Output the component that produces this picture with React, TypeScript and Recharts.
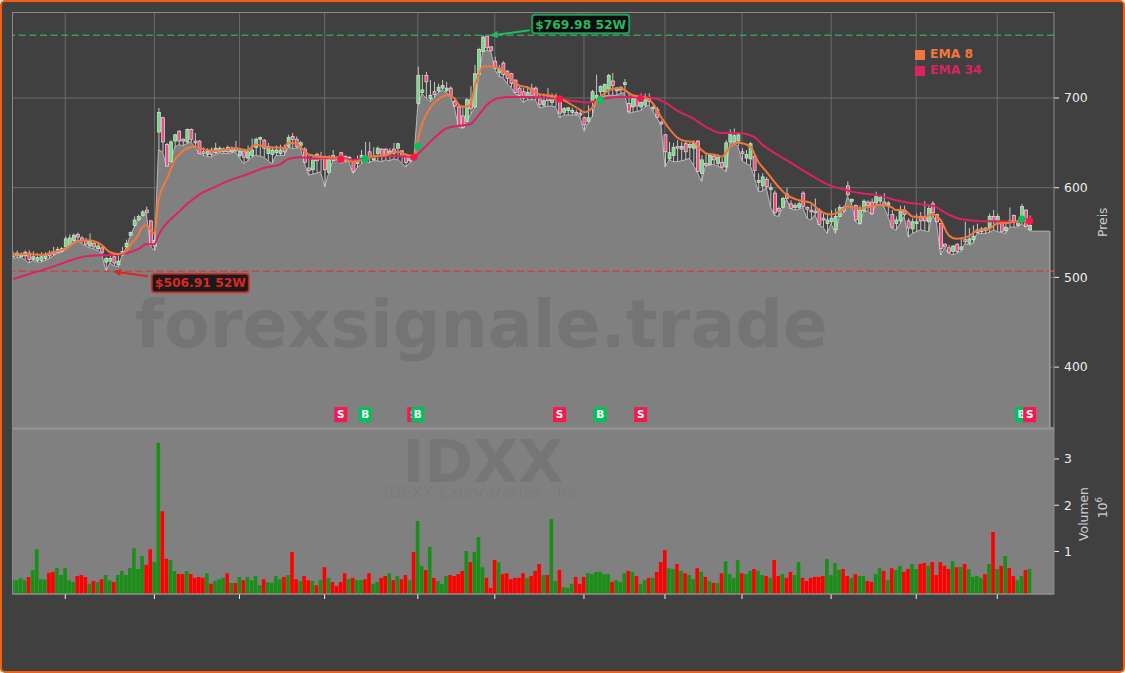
import React from "react";
import {
  ComposedChart, Area, Bar, Line, Cell, XAxis, YAxis, CartesianGrid, ReferenceLine, ReferenceDot,
} from "recharts";

const FONT = "'DejaVu Sans', sans-serif";

const xTickIndex = [13, 35, 56, 77, 100, 119, 141, 161, 180, 202, 223, 243];
const xTickLabels = ["", "Aug 2025", "", "Oct 2025", "", "Dec 2025", "", "Feb 2026", "", "Apr 2026", "", "Jun 2026"];
const priceTicks = [400, 500, 600, 700];
const volumeTicks = [1, 2, 3];

const opens = [
  523,524,523,524,527,520,519,519,521,527,
  529,528,529,534,536,541,548,544,541,535,
  538,532,533,517,518,523,514,525,534,547,
  558,564,569,575,563,535,662,678,648,629,
  652,663,654,651,665,652,652,640,637,642,
  639,640,640,645,640,644,636,641,633,636,
  645,654,653,638,637,639,638,645,646,657,
  654,647,643,622,620,637,632,634,617,636,
  634,639,635,631,630,627,632,635,640,631,
  638,643,643,638,643,644,641,634,630,636,
  694,706,725,699,707,708,711,708,711,696,
  690,680,674,698,690,726,752,769,757,741,
  728,739,730,727,720,711,707,701,711,711,
  699,692,701,695,698,699,684,686,684,684,
  683,678,674,696,700,707,707,710,719,708,
  709,715,694,690,701,690,692,699,688,687,
  673,659,632,636,646,643,649,645,644,652,
  616,627,626,635,627,628,623,651,651,652,
  640,633,632,635,606,602,609,598,594,577,
  578,593,582,578,578,594,578,575,574,575,
  566,560,562,553,568,578,602,585,580,560,
  574,584,584,583,585,584,580,570,560,563,
  574,563,554,560,568,568,562,582,570,560,
  537,533,529,537,531,542,538,542,550,551,
  555,555,568,562,560,552,563,569,558,562,
  575,553,
];
const closes = [
  526,527,525,528,520,523,522,523,524,524,
  526,531,532,543,544,547,545,541,537,540,
  534,535,528,521,521,516,518,529,538,550,
  564,568,573,572,536,541,684,651,624,651,
  659,652,652,665,654,650,638,638,641,637,
  644,644,643,640,644,641,641,634,640,642,
  654,656,644,646,642,642,642,640,656,654,
  646,650,628,619,631,630,635,620,631,630.5,
  632,629,630,634,618,631,636,631,634,634,
  644,635,636,641,638,649,636,628,633,631.5,
  725,709,718,703,704,712,714,711,703,691,
  669,667,698,688,727,754,768,756,753,733,
  732,726,722,716,706,703,700,706,703,701,
  693,697,697,702,701,683,688,689,686,682,
  681,670,678,707,703,713,715,725,714,711,
  712,717,685,699,691,695,698,696,690,678.5,
  671,640,639,645,644,646,640,648,649,618,
  631,625,636,631,634,623,650,660,658,659,
  638,637,649,619,608,612,601,600,572,574,
  588,588,577,580,582,579,576,573,572,559,
  564,564,566,568,578,574,592,587,564,575,
  585,580,571,590,589,580,583,556,564,574,
  570,555,562,562,563,563,577,572,562,532,
  534,528,535,529,534,540,543,546,553,554,
  552,568,562,568,551,556,561,563,561,579,
  556.5,558,
];
const highs = [
  529,530,528,530,530,529,527,528,528,530,
  534,534,534,546,548,549,550,546,544,549,
  540,538,534,523,525,527,526,534,542,551,
  568,570,575,579,564,553,689,679,650,653,
  660,664,655,666,666,661,653,645,644,645,
  650,646,645,647,646,652,644,643,647,655,
  656,657,654,650,645,647,648,648,659,661,
  657,652,645,635,636,639,640,636,636,642,
  635,640,636,635,632,636,642,651,651,645,
  646,644,644,644,650,650,642,638,637,637,
  735,726,729,720,718,716,720,718,713,700,
  692,692,700,713,737,756,770,770,757.5,746,
  737,741,731,728,720.5,713,711,713,716,713,
  705,705,711,705,705,701,690,690,689,687,
  687,679,692,709,726,714,716,727,728,712,
  713,721,705,703,702,705,705,705,694,690,
  675,659.5,651,650,653,651,653,650,653,653,
  636,638,638,638,637,633,653,665,666,661,
  644,642,651,638,616,616,612,605,597,579,
  590,600,586,583,584,596,579,581,588,577,
  571,570,575,577,581,580,607,588,581,580,
  587,586,588,595.5,592,594,585,575,568,580,
  580,566,566,571,573,585,581,585,571,560.5,
  538,536,536,538,544,562,555,558,560,556,
  556,571,575,571,561,560,578,570,564,582,
  576,569,
];
const lows = [
  521,522,522,520,516,519,517,517,519,521,
  524,527,528,531,534,540,541,538,535,533,
  532,530,526,507,516,513,512,524,533,546,
  556,563,568,571,535,530,642,640,624,628,
  645,648,647,649,651,645,638,636,635,634,
  637,639,638,638,639,640,633,627,630,634,
  636,635,634,630,627,636,636,636,645,644,
  644,645,627,614,615,616,618,601,616,630,
  631,627,629,629,616,622,627,629,628,630,
  630,629,631,630,632,631,628,623,628,631,
  692,705,700,696,700,706,709,706,702,690,
  668,666,673,682,689,724,751,753,752,732,
  724,723,716,712,705,702,695,698,698,698,
  689,690,691,691,690,678,681,681,681,681,
  679,663,672,679,698,701,702,703,703,703,
  705,706,683,684,685,686,690,692,685,678,
  670,623,631,629,629,630,631,633,625,617,
  607,624,625,626,624,622,618,650,650,646,
  630,627,625,612,596,596,600,579,569,568,
  577,587,577,575,576,578,566,564,570,558,
  556,549,560,549,567,572,590,583,562,559,
  573,574,570,581,581,579,568,555,553,560,
  568,545,549,551,553,552,551,570,561,525,
  533,527,525,527,529,538,536,538,549,549,
  549,550,553,551,550,549,556,556,556,560,
  556,552,551.5,551.5,551.5,551.5,551.5,
];
const volumes = [
  .38,.38,.42,.38,.45,.60,1.05,.40,.40,.54,
  .56,.64,.49,.64,.38,.34,.47,.49,.45,.30,
  .36,.34,.40,.49,.38,.34,.49,.58,.49,.64,
  1.07,.62,.90,.71,1.05,.77,3.35,1.87,.84,.815,
  .58,.51,.51,.58,.51,.43,.45,.43,.53,.30,
  .36,.40,.43,.53,.32,.32,.45,.38,.45,.38,
  .47,.27,.40,.34,.32,.47,.40,.45,.49,.99,
  .40,.36,.47,.38,.36,.27,.38,.66,.43,.34,
  .25,.34,.53,.40,.43,.38,.38,.40,.53,.30,
  .34,.43,.47,.53,.38,.47,.40,.49,.38,.99,
  1.66,.69,.60,1.10,.43,.36,.30,.47,.49,.47,
  .51,.58,1.01,.77,.99,1.31,.66,.43,.21,.815,
  .77,.51,.53,.40,.43,.43,.53,.43,.47,.58,
  .73,.49,.49,1.70,.36,.60,.23,.21,.30,.45,
  .30,.45,.53,.51,.56,.56,.51,.51,.34,.38,
  .34,.53,.58,.56,.47,.30,.38,.43,.43,.56,
  .77,1.03,.64,.62,.73,.58,.53,.49,.40,.64,
  .56,.45,.36,.32,.32,.53,.79,.51,.43,.815,
  .53,.51,.58,.62,.58,.49,.47,.43,.815,.47,
  .51,.43,.56,.49,.77,.43,.36,.43,.45,.45,
  .47,.84,.49,.75,.60,.62,.47,.43,.51,.47,
  .47,.36,.34,.51,.64,.58,.38,.64,.60,.69,
  .56,.62,.73,.62,.73,.75,.69,.77,.49,.77,
  .69,.62,.79,.66,.66,.73,.62,.45,.47,.43,
  .51,.73,1.42,.62,.69,.90,.64,.47,.38,.47,
  .60,.62,
];

const ema8Index = [0,4,7,10,13,15,17,19,22,24,26,28,29,31,32,33,34,35,36,37,38,39,40,41,43,45,47,50,52,55,58,60,63,67,68,70,72,73,76,78,81,84,87,89,92,95,97,99,100,101,103,105,107,109,110,111,113,114,115,116,118,121,123,125,127,130,132,135,137,140,141,143,144,146,148,150,151,153,156,158,160,162,164,166,168,170,171,174,175,177,179,182,184,186,189,191,194,197,199,202,204,206,209,212,214,217,218,220,222,225,227,229,231,233,236,238,241,243,246,249,251];
const ema8Values = [525,526,525,528,532,538,541,541,536,528,526,529,536,547,556,558,553,549,586,600,609,620,631,636,644,646,643,641,642,644,642,648,645,644.6,650,649,641,637,634.6,634,633,629,632,635,636,640,637,634.6,653,670,689,698,703,700,693,690,692,712.6,725,735,735,731,722,714,712,704,703,700,695,687,684,689,696,705,710,711,709,703,701,694,679,666,656,652,651,642,638.6,636,634.6,645,650,646,629,618,601,592,586,583,575,570,573,579,577,579,581,578,575,575,568,567,570.5,564,547,543,546,552,554,560,561,563,563];
const ema34Index = [0,5,10,15,19,24,27,31,33,35,36,41,46,50,54,58,62,66,68,71,74,78,81,84,87,91,96,99,101,104,107,110,113,115,117,120,123,127,135,138,142,145,149,154,158,161,164,168,171,175,179,183,185,189,192,197,202,206,209,213,218,223,227,231,234,238,243,249,251];
const ema34Values = [498,505,512,520,524,525,526,531.5,537,537,547,573,592,601,609,615,622,626,632,634,632.6,633,633,631,633,635,635,634,642,655,666,669,671,681,692,700,701,701,699,697,695,698,701,701,700,695,686,677,668,661,661,656.6,648,636,628,614,602,597,594,592,586,582,580,570,565,563,562.5,562,562];

const tableRows = lows.map((low, i) => {
  const j8 = ema8Index.indexOf(i);
  const j34 = ema34Index.indexOf(i);
  return {
    i,
    low,
    high: i < highs.length ? highs[i] : null,
    open: i < opens.length ? opens[i] : null,
    close: i < closes.length ? closes[i] : null,
    ema8: j8 >= 0 ? ema8Values[j8] : null,
    ema34: j34 >= 0 ? ema34Values[j34] : null,
  };
});
const volumeRows = volumes.map((volume, i) => ({ i, volume, up: closes[i] >= opens[i] }));

const sigDots = [
  { i: 81, p: 631.8, up: false }, { i: 87, p: 631.8, up: true }, { i: 99, p: 634, up: false },
  { i: 100, p: 646, up: true }, { i: 135, p: 699, up: false }, { i: 145, p: 698, up: true },
  { i: 155, p: 700, up: false }, { i: 249, p: 565, up: true }, { i: 251, p: 563, up: false },
];
const sigBoxLevel = 347;

const HIGH_52 = 769.98;
const LOW_52 = 506.91;

const C_EMA8 = "#f5763a";
const C_EMA34 = "#dd2163";
const C_BUY = "#00c25a";
const C_SELL = "#f7174e";
const XDOMAIN: [number, number] = [-0.025, 257];

function Candle(props: any) {
  const { x, y, width, height, payload } = props;
  if (!payload || payload.high == null || !height) return null;
  const k = height / (payload.high - payload.low);
  const top = y + (payload.high - Math.max(payload.open, payload.close)) * k;
  const bh = Math.max(Math.abs(payload.open - payload.close) * k, 1.2);
  const up = payload.close >= payload.open;
  const cx = x + width / 2;
  return (
    <g>
      <line x1={cx} x2={cx} y1={y} y2={y + height} stroke="#d4d4d4" strokeWidth={0.9} />
      <rect x={x} y={top} width={width} height={bh} fill={up ? "#6fdc80" : "#ee4f80"} stroke="#e2e2e2" strokeWidth={0.7} />
    </g>
  );
}

function Callout(props: any) {
  const { cx, cy, color, fill, text, tail, box } = props;
  const tx = cx + tail[0], ty = cy + tail[1];
  const a = Math.atan2(ty - cy, tx - cx);
  const hx = cx + 3, hy = cy + 0.3;
  const bx = hx + 8 * Math.cos(a), by = hy + 8 * Math.sin(a);
  const nx = -Math.sin(a) * 3.5, ny = Math.cos(a) * 3.5;
  return (
    <g>
      <line x1={tx} y1={ty} x2={bx} y2={by} stroke={color} strokeWidth={2} />
      <polygon points={`${hx},${hy} ${bx + nx},${by + ny} ${bx - nx},${by - ny}`} fill={color} />
      <rect x={cx + box[0]} y={cy + box[1]} width={97} height={18.5} rx={3} fill={fill} stroke={color} strokeWidth={2} strokeOpacity={0.8} />
      <text x={cx + box[0] + 48.5} y={cy + box[1] + 13.8} textAnchor="middle" fontFamily={FONT} fontWeight={700} fontSize={12.3} fill={color}>{text}</text>
    </g>
  );
}

function SigBox(props: any) {
  const { cx, cy, letter, color } = props;
  return (
    <g>
      <rect x={cx - 6.5} y={cy - 7.5} width={13} height={15} fill={color} />
      <text x={cx} y={cy + 3.8} textAnchor="middle" fontFamily={FONT} fontWeight={700} fontSize={10.5} fill="#ffffff">{letter}</text>
    </g>
  );
}

function XTick(props: any) {
  const { x, payload } = props;
  const idx = xTickIndex.indexOf(payload.value);
  const label = idx >= 0 ? xTickLabels[idx] : "";
  if (!label) return null;
  return (
    <text transform={`translate(${x - 2},${633}) rotate(-45)`} textAnchor="middle" dominantBaseline="central" fontFamily={FONT} fontSize={12.4} fill="#e8e8e8">{label}</text>
  );
}

const tickStyle = { fill: "#ececec", fontSize: 12.4, fontFamily: FONT };

export default function App() {
  return (
    <div style={{ position: "fixed", left: 0, top: 0, width: 1125, height: 673, overflow: "hidden", background: "#ffffff" }}>
      <div style={{ position: "absolute", inset: 0, boxSizing: "border-box", background: "#404040", border: "2.5px solid #f2600f", borderRadius: 5 }} />
      <div style={{ position: "absolute", left: 0, top: 0 }}>
        <ComposedChart width={1125} height={430} data={tableRows} margin={{ top: 12.5, left: 12.5, right: 0, bottom: 2 }}>
          <CartesianGrid stroke="#6a6a6a" strokeWidth={1} horizontalValues={priceTicks} verticalValues={xTickIndex} />
          <XAxis type="number" dataKey="i" domain={XDOMAIN} hide ticks={xTickIndex} allowDataOverflow />
          <YAxis
            yAxisId={0} orientation="right" width={71} domain={[332.1, 795.3]} ticks={priceTicks} allowDataOverflow
            tick={tickStyle} tickLine={{ stroke: "#ececec" }} tickSize={5} tickMargin={5} axisLine={false}
            label={{ value: "Preis", angle: -90, position: "center", dx: 13, dy: 2, fill: "#cfcfcf", fontSize: 12.4, fontFamily: FONT }}
          />
          <Area dataKey="low" type="linear" stroke="#b8b8b8" strokeWidth={1} fill="#808080" fillOpacity={1} dot={false} activeDot={false} isAnimationActive={false} />
          <Bar dataKey={(d: any) => (d.high == null ? null : [d.low, d.high])} barSize={3} shape={<Candle />} isAnimationActive={false} />
          <ReferenceLine y={HIGH_52} stroke="#2f9e5f" strokeWidth={1.5} strokeDasharray="7 3.6" />
          <ReferenceLine y={LOW_52} stroke="#c94444" strokeWidth={1.5} strokeDasharray="7 3.6" />
          <ReferenceLine segment={[{ x: 256, y: 332.1 }, { x: 256, y: 551.5 }]} stroke="#b8b8b8" strokeWidth={1} />
          <Line dataKey="ema34" type="monotone" connectNulls stroke={C_EMA34} strokeWidth={2} dot={false} activeDot={false} isAnimationActive={false} />
          <Line dataKey="ema8" type="monotone" connectNulls stroke={C_EMA8} strokeWidth={2} dot={false} activeDot={false} isAnimationActive={false} />
          {sigDots.map((d) => (
            <ReferenceDot key={`dot${d.i}`} x={d.i} y={d.p} r={3.6} fill={d.up ? C_BUY : C_SELL} stroke="none" />
          ))}
          {sigDots.map((d) => (
            <ReferenceDot key={`box${d.i}`} x={d.i} y={sigBoxLevel} r={1} shape={(p: any) => <SigBox {...p} letter={d.up ? "B" : "S"} color={d.up ? C_BUY : C_SELL} />} />
          ))}
          <ReferenceDot x={117} y={HIGH_52} r={1} shape={(p: any) => <Callout {...p} color="#22b864" fill="#0d0d0d" text="$769.98 52W" tail={[43, -5]} box={[45.5, -20.5]} />} />
          <ReferenceDot x={24} y={LOW_52} r={1} shape={(p: any) => <Callout {...p} color="#dc2626" fill="#1a1a1a" text="$506.91 52W" tail={[38, 5]} box={[42, 2.5]} />} />
        </ComposedChart>
      </div>
      <div style={{ position: "absolute", left: 0, top: 428 }}>
        <ComposedChart width={1125} height={245} data={volumeRows} margin={{ top: 0, left: 12.5, right: 0, bottom: 0 }}>
          <CartesianGrid fill="#808080" horizontal={false} vertical={false} />
          <XAxis
            type="number" dataKey="i" domain={XDOMAIN} ticks={xTickIndex} height={79} allowDataOverflow interval={0}
            tick={<XTick />} tickLine={{ stroke: "#ececec" }} tickSize={5} axisLine={{ stroke: "#9a9a9a" }}
          />
          <YAxis
            orientation="right" width={71} domain={[0.08, 3.67]} ticks={volumeTicks} allowDataOverflow
            tick={tickStyle} tickLine={{ stroke: "#ececec" }} tickSize={5} tickMargin={5} axisLine={false}
            label={{ value: "Volumen", angle: -90, position: "center", dx: -5.5, dy: 3, fill: "#cfcfcf", fontSize: 12.4, fontFamily: FONT }}
          />
          <Bar dataKey="volume" barSize={4.6} isAnimationActive={false}>
            {volumeRows.map((r) => (
              <Cell key={r.i} fill={r.up ? "#1a8f18" : "#ff0000"} />
            ))}
          </Bar>
        </ComposedChart>
      </div>
      <svg width={1125} height={673} style={{ position: "absolute", left: 0, top: 0, pointerEvents: "none" }}>
        <text x={481.5} y={347} textAnchor="middle" fontFamily={FONT} fontWeight={700} fontSize={66.5} fill="#000000" fillOpacity={0.09}>forexsignale.trade</text>
        <text x={483} y={482} textAnchor="middle" fontFamily={FONT} fontWeight={700} fontSize={58.5} fill="#000000" fillOpacity={0.08}>IDXX</text>
        <text x={480} y={498} textAnchor="middle" fontFamily={FONT} fontSize={16.4} fill="#000000" fillOpacity={0.06}>IDEXX Laboratories, Inc</text>
        <rect x={12.5} y={12.5} width={1041.5} height={415.5} fill="none" stroke="#8a8a8a" strokeWidth={1} />
        <line x1={12.5} x2={1054} y1={428.5} y2={428.5} stroke="#9c9c9c" strokeWidth={2} />
        <rect x={12.5} y={428} width={1041.5} height={166} fill="none" stroke="#8a8a8a" strokeWidth={1} />
        <rect x={915} y={50} width={10} height={10} fill={C_EMA8} />
        <text x={930} y={58} fontFamily={FONT} fontWeight={700} fontSize={12.3} fill={C_EMA8}>EMA 8</text>
        <rect x={915} y={66} width={10} height={10} fill={C_EMA34} />
        <text x={930} y={74} fontFamily={FONT} fontWeight={700} fontSize={12.3} fill={C_EMA34}>EMA 34</text>
        <text transform="translate(1107,507.5) rotate(-90)" textAnchor="middle" fontFamily={FONT} fontSize={12.4} fill="#cfcfcf">10<tspan dy={-5} fontSize={8.7}>6</tspan></text>
      </svg>
    </div>
  );
}
